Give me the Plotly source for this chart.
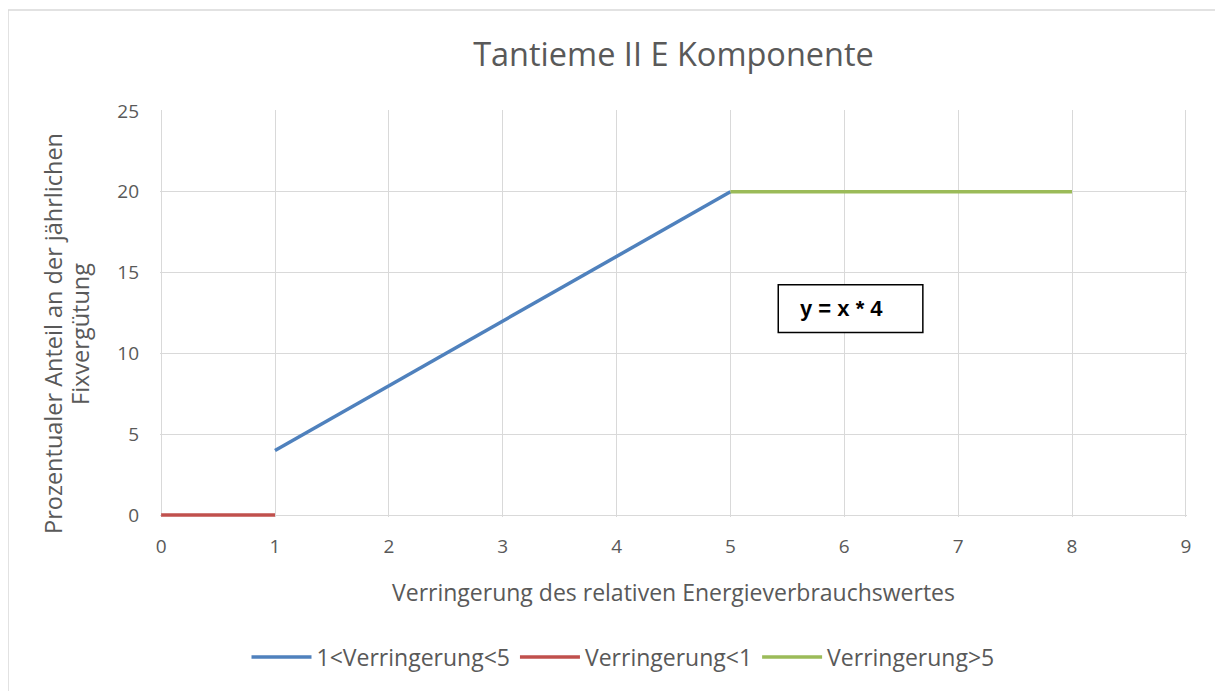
import plotly.graph_objects as go

# Data
blue_x = [1, 5]
blue_y = [4, 20]
red_x = [0, 1]
red_y = [0, 0]
green_x = [5, 8]
green_y = [20, 20]
series_names = ["1<Verringerung<5", "Verringerung<1", "Verringerung>5"]
x_ticks = list(range(0, 10))
y_ticks = [0, 5, 10, 15, 20, 25]
formula_text = "y = x * 4"
box_x = [5.42, 6.69]
box_y = [11.3, 14.25]
y_title_lines = ["Prozentualer Anteil an der jährlichen", "Fixvergütung"]

FONT = "'Open Sans', Lato, sans-serif"
GREY = "#595959"
GRID = "#D9D9D9"

W, H = 1215, 683
L, T = 152, 102
PW, PH = 1027, 407
R = W - L - PW
B = H - T - PH

fig = go.Figure()
fig.add_trace(go.Scatter(x=blue_x, y=blue_y, mode="lines", name=series_names[0],
                         line=dict(color="#4F81BD", width=3.5)))
fig.add_trace(go.Scatter(x=red_x, y=red_y, mode="lines", name=series_names[1],
                         line=dict(color="#C0504D", width=3.5)))
fig.add_trace(go.Scatter(x=green_x, y=green_y, mode="lines", name=series_names[2],
                         line=dict(color="#9BBB59", width=3.5)))

fig.update_layout(
    width=W, height=H,
    margin=dict(l=L, r=R, t=T, b=B),
    paper_bgcolor="white", plot_bgcolor="white",
    font=dict(family=FONT, color=GREY, size=19),
    title=dict(text="Tantieme II E Komponente", x=0.5, xanchor="center",
               y=1 - 47 / H, yanchor="middle", xref="paper",
               font=dict(size=32.5, color=GREY)),
    xaxis=dict(range=[-0.01, 9.01], tickvals=x_ticks, showgrid=True, gridcolor=GRID,
               gridwidth=1.3, zeroline=False, showline=False, ticks="",
               ticklabelstandoff=16, tickfont=dict(size=19, color=GREY),
               title=dict(text="Verringerung des relativen Energieverbrauchswertes",
                          font=dict(size=23, color=GREY), standoff=26)),
    yaxis=dict(range=[-0.12, 25.06], tickvals=y_ticks, showgrid=True, gridcolor=GRID,
               gridwidth=1.3, zeroline=True, zerolinecolor=GRID, zerolinewidth=1.3,
               showline=False, ticks="", ticklabelstandoff=20,
               tickfont=dict(size=19, color=GREY)),
    legend=dict(orientation="h", x=(615 - L) / PW, xanchor="center",
                y=-(649 - 509) / PH, yanchor="middle",
                font=dict(size=23, color=GREY),
                itemwidth=60, traceorder="normal"),
    showlegend=True,
)

# y-axis title as two rotated lines
for txt, px in zip(y_title_lines, [45, 72]):
    fig.add_annotation(x=(px - L) / PW, y=(T + PH - 326) / PH, xref="paper", yref="paper",
                       text=txt, textangle=-90, showarrow=False,
                       xanchor="center", yanchor="middle",
                       font=dict(size=23.5, color=GREY, family=FONT))

# annotation box
fig.add_shape(type="rect", x0=box_x[0], x1=box_x[1], y0=box_y[0], y1=box_y[1],
              xref="x", yref="y", line=dict(color="black", width=1.5),
              fillcolor="white", layer="above")
fig.add_annotation(x=box_x[0] + 0.17, y=(box_y[0] + box_y[1]) / 2, xref="x", yref="y",
                   text="<b>" + formula_text + "</b>", showarrow=False, xanchor="left",
                   yanchor="middle", font=dict(size=22, color="black",
                                               family="Liberation Sans, Arial, sans-serif"))

# outer chart border
fig.add_shape(type="rect", xref="paper", yref="paper",
              x0=(0 - L) / PW, x1=(1213 - L) / PW,
              y0=-(H + 20 - (T + PH)) / PH, y1=(T + PH - 2) / PH,
              line=dict(color=GRID, width=1.5), layer="below")

fig.write_html("out.html")
